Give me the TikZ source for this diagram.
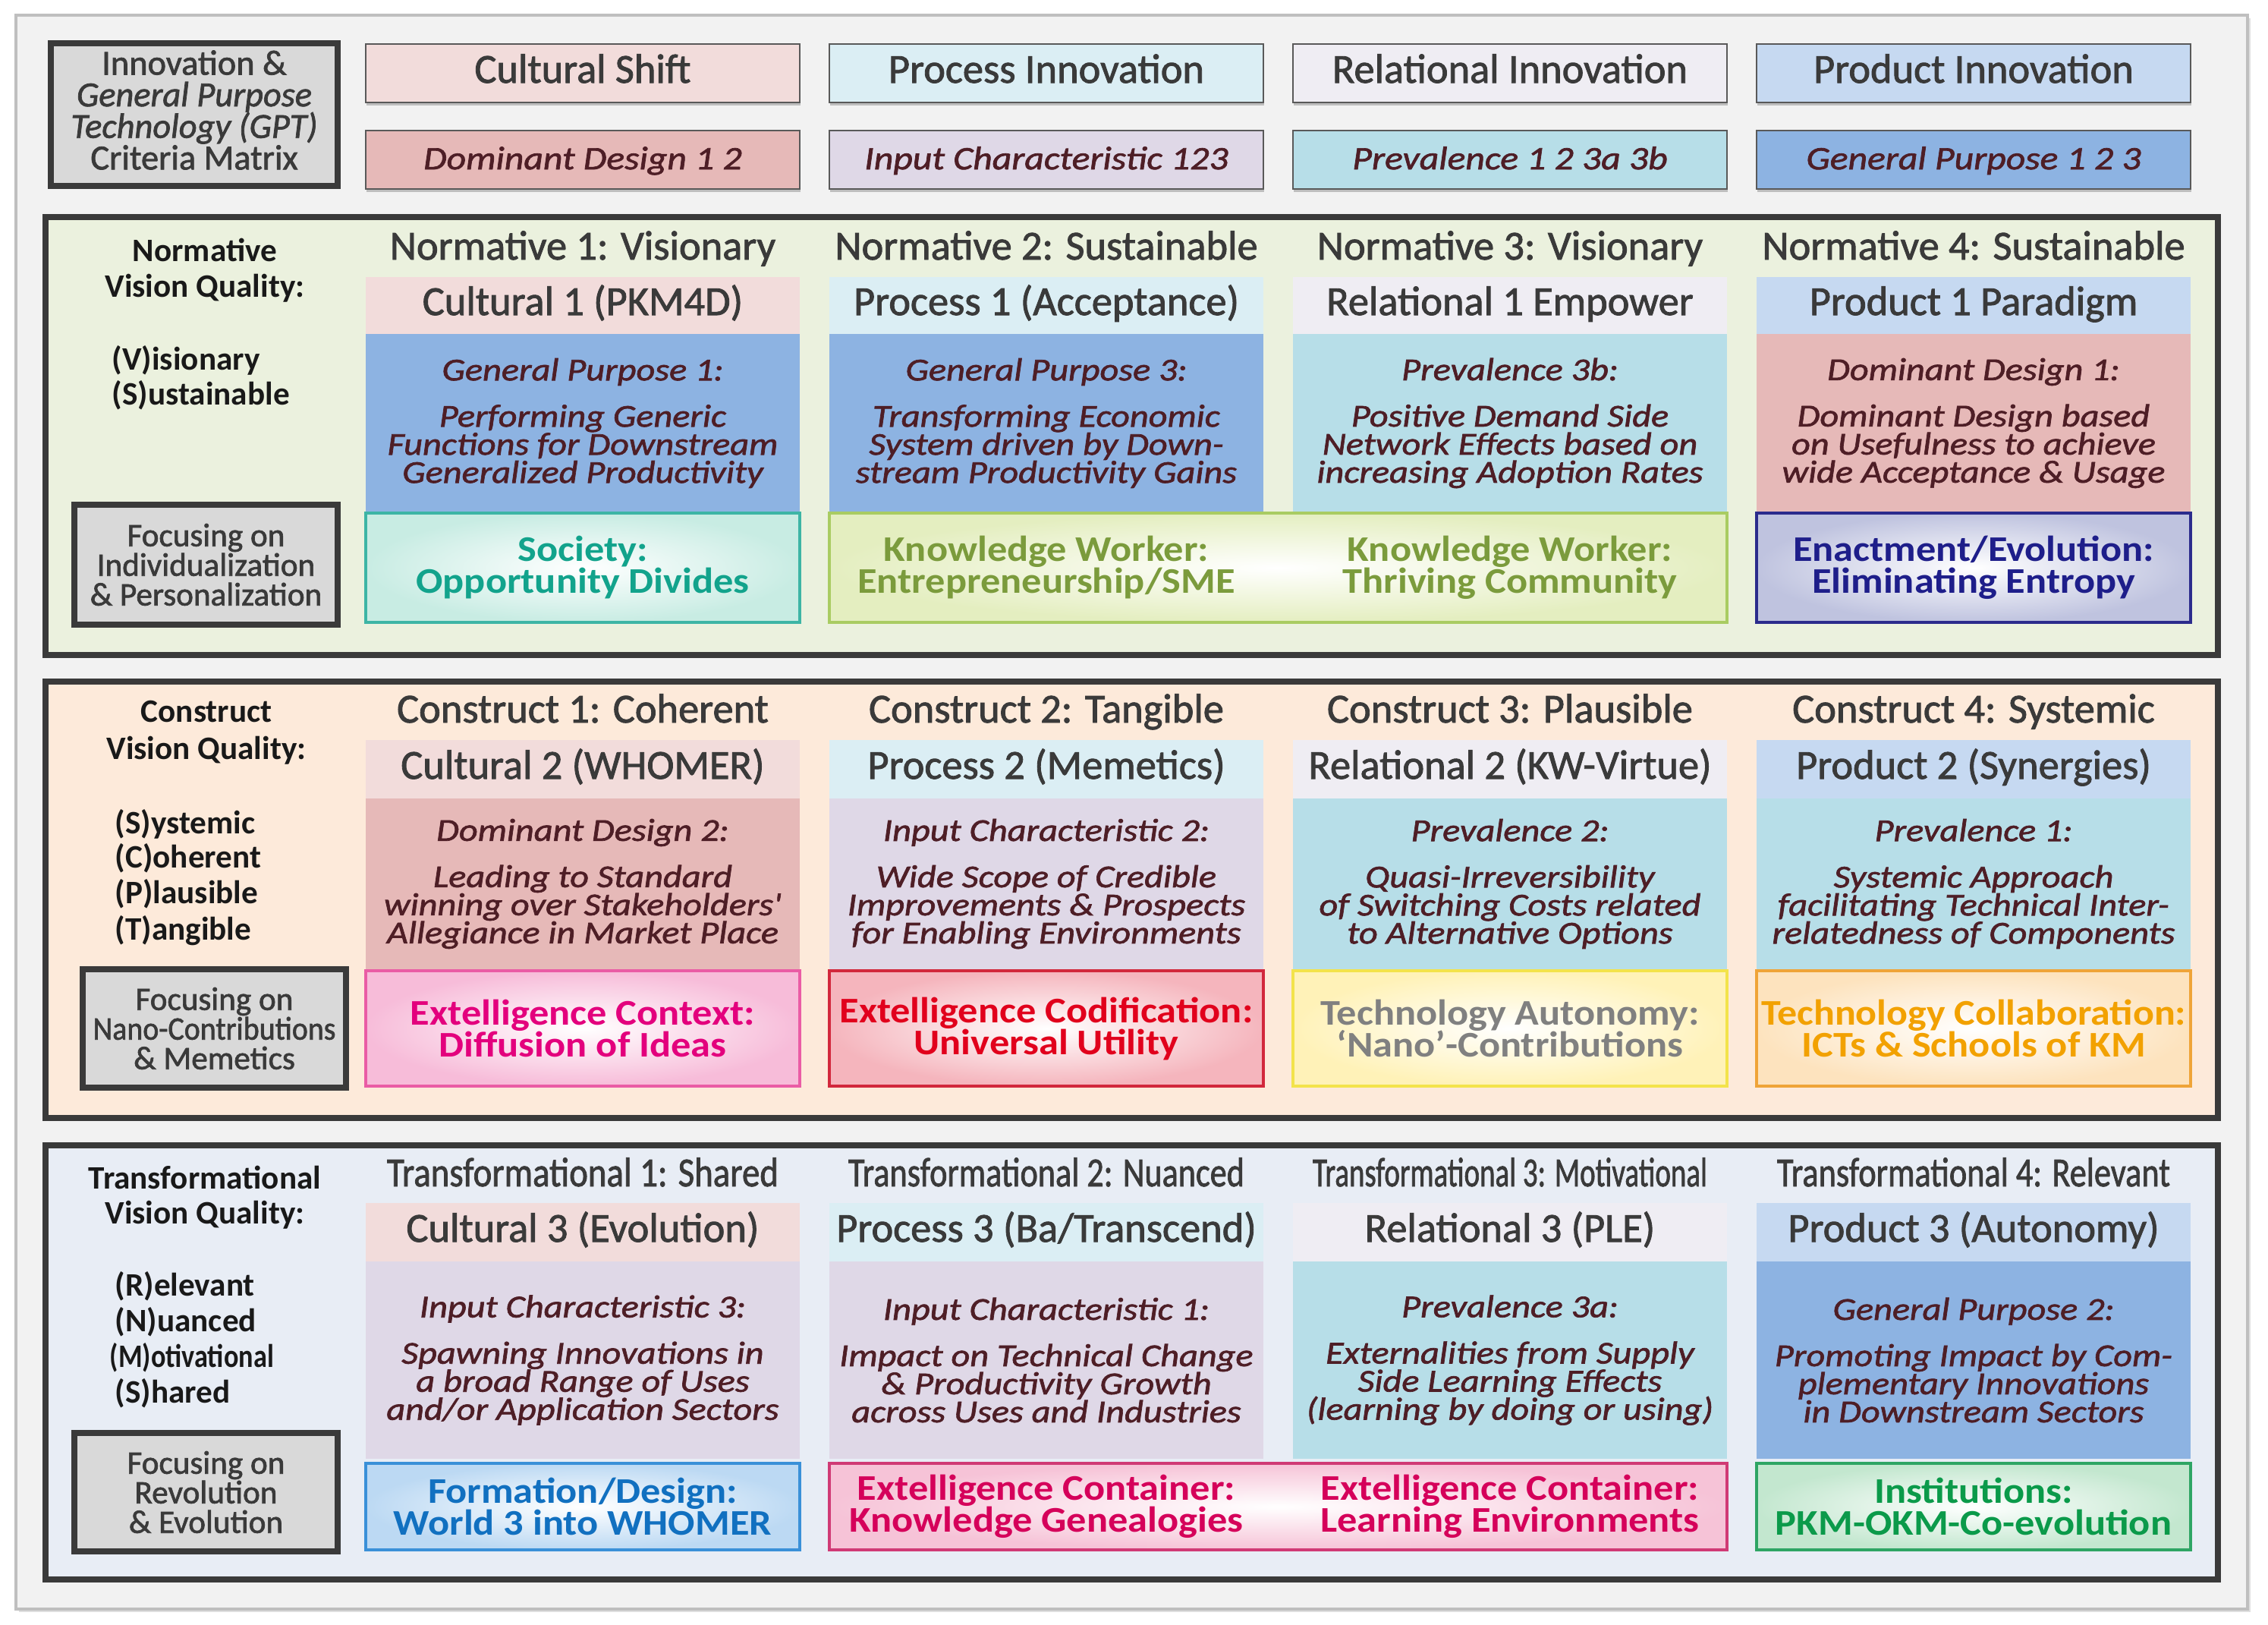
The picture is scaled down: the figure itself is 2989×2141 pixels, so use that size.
\documentclass[tikz,border=0pt]{standalone}
\usepackage{fontspec}
\usepackage{graphicx}
\setmainfont{Carlito}
\newfontfamily\hdf{Carlito}[FakeBold=1.6]
\newfontfamily\wideA{Carlito}[FakeStretch=1.15,FakeBold=1.6]
\newfontfamily\wideB{Carlito}[FakeStretch=1.1]
\usetikzlibrary{shadows}
\newcommand\tight{\lineskiplimit=-50pt\relax}
\newlength\maxw
\setlength\maxw{140pt}
\newsavebox\fitbox
\newcommand\fitl[1]{\sbox\fitbox{#1}\ifdim\wd\fitbox>\maxw\resizebox{\maxw}{\height}{#1}\else\usebox\fitbox\fi}
\newcommand\ct[4]{#1\\[6pt]\fitl{#2}\\\fitl{#3}\\\fitl{#4}}
\newcommand\cond[2]{\resizebox{#1}{\height}{#2}}
\definecolor{frameF}{HTML}{F2F2F2}
\definecolor{boxgray}{HTML}{D9D9D9}
\definecolor{darkb}{HTML}{3A3A3A}
\definecolor{cul}{HTML}{F2DCDB}
\definecolor{pro}{HTML}{DBEEF4}
\definecolor{rel}{HTML}{EFEDF3}
\definecolor{prd}{HTML}{C6D9F1}
\definecolor{dd}{HTML}{E6B9B8}
\definecolor{ic}{HTML}{DFD8E7}
\definecolor{prev}{HTML}{B7DEE8}
\definecolor{gp}{HTML}{8DB3E2}
\definecolor{bandA}{HTML}{EBF1DE}
\definecolor{bandB}{HTML}{FDEADA}
\definecolor{bandC}{HTML}{E8EDF5}
\definecolor{hdtext}{HTML}{3A3A3A}
\definecolor{ctext}{HTML}{4E1E26}
\definecolor{socT}{HTML}{12A38C}\definecolor{socB}{HTML}{3DB5A5}\definecolor{socO}{HTML}{C8ECE3}
\definecolor{kwT}{HTML}{7B9B3C}\definecolor{kwB}{HTML}{A9CC62}\definecolor{kwO}{HTML}{E4EEC0}
\definecolor{enT}{HTML}{1E1E8A}\definecolor{enB}{HTML}{2B2B8C}\definecolor{enO}{HTML}{BFC3DF}
\definecolor{ecT}{HTML}{E3007D}\definecolor{ecB}{HTML}{EA5CA5}\definecolor{ecO}{HTML}{F7BCD9}
\definecolor{edT}{HTML}{E1001C}\definecolor{edB}{HTML}{D2283C}\definecolor{edO}{HTML}{F5B5BD}
\definecolor{taT}{HTML}{808080}\definecolor{taB}{HTML}{F3E34B}\definecolor{taO}{HTML}{FFF2B8}
\definecolor{tcT}{HTML}{F2A100}\definecolor{tcB}{HTML}{EFA438}\definecolor{tcO}{HTML}{FDE3BE}
\definecolor{fdT}{HTML}{1170C0}\definecolor{fdB}{HTML}{3A90D8}\definecolor{fdO}{HTML}{BCD9F3}
\definecolor{xcT}{HTML}{D5005A}\definecolor{xcB}{HTML}{D03A75}\definecolor{xcO}{HTML}{F6C3D7}
\definecolor{inT}{HTML}{0B9A4A}\definecolor{inB}{HTML}{2EA564}\definecolor{inO}{HTML}{C3E7CF}
\begin{document}
\begin{tikzpicture}[x=0.25pt,y=-0.25pt,
  hdrbox/.style={draw=black!65, line width=0.6pt, minimum width=143pt, minimum height=19.25pt, inner sep=0pt, text height=0.72em, text depth=0.09em, drop shadow={opacity=0.45, shadow xshift=0.2pt, shadow yshift=-0.9pt}},
  hdrA/.style={hdrbox, font=\hdf\fontsize{13.6}{16}\selectfont, text=hdtext},
  hdrB/.style={hdrbox, font=\wideA\itshape\fontsize{10.8}{13}\selectfont, text=ctext},
  bandbox/.style={draw=darkb, line width=2pt, inner sep=0pt, minimum width=715.75pt},
  graybox/.style={draw=darkb, line width=2pt, fill=boxgray, inner sep=0pt, align=center, text=hdtext, minimum width=86.75pt, minimum height=39.5pt, font=\hdf\fontsize{10.8}{9.75}\selectfont\tight},
  headtxt/.style={font=\hdf\fontsize{13.6}{16}\selectfont, text=hdtext, inner sep=0pt, anchor=base},
  lbl/.style={font=\bfseries\fontsize{10.8}{13}\selectfont, text=black!90, inner sep=0pt, anchor=base},
  lst/.style={lbl, anchor=base west},
  namebox/.style={minimum width=143pt, minimum height=19.25pt, inner sep=0pt, font=\hdf\fontsize{13.6}{16}\selectfont, text=hdtext, text height=0.72em, text depth=0.09em},
  cbox/.style={minimum width=143pt, inner sep=0pt, align=center, text=ctext, font=\wideA\itshape\fontsize{10.5}{9.25}\selectfont\tight},
  btxt/.style={align=center, inner sep=0pt, font=\wideB\bfseries\fontsize{11.9}{10.5}\selectfont\tight},
  bbox/.style={btxt, minimum width=143pt, line width=0.8pt}
]
\fill[white] (0,0) rectangle (2989,2141);
\useasboundingbox (0,0) rectangle (2989,2141);
\node[draw=black!25, line width=1pt, fill=frameF, minimum width=735.25pt, minimum height=525pt, inner sep=0pt, drop shadow={opacity=0.25, shadow xshift=1pt, shadow yshift=-1pt}] (frame) at (1491.5,1070) {};
% top-left box
\node[graybox, minimum width=94.5pt, minimum height=47pt] (tl) at (256,151) {};
\node[align=center, inner sep=0pt, text=hdtext, font=\hdf\fontsize{11.6}{10.4}\selectfont\tight] (tlt) at (256,145) {Innovation \&\\\textit{General Purpose}\\\textit{Technology (GPT)}\\Criteria Matrix};
% header rows
\node[hdrA, fill=cul] (hc) at (768,96.5) {Cultural Shift};
\node[hdrA, fill=pro] (hp) at (1379,96.5) {Process Innovation};
\node[hdrA, fill=rel] (hr) at (1990,96.5) {Relational Innovation};
\node[hdrA, fill=prd] (hq) at (2601,96.5) {Product Innovation};
\node[hdrB, fill=dd] (gd) at (768,210.5) {Dominant Design 1 2};
\node[hdrB, fill=ic] (gi) at (1379,210.5) {Input Characteristic 123};
\node[hdrB, fill=prev] (gv) at (1990,210.5) {Prevalence 1 2 3a 3b};
\node[hdrB, fill=gp] (gg) at (2601,210.5) {General Purpose 1 2 3};
% bands
\node[bandbox, fill=bandA, minimum height=144.25pt] (bandN) at (1491.5,574.5) {};
\node[bandbox, fill=bandB, minimum height=143.75pt] (bandK) at (1491.5,1185.5) {};
\node[bandbox, fill=bandC, minimum height=143pt] (bandT) at (1491.5,1795) {};
% ---------- band 1
\node[lbl] (n1a) at (270,344) {Normative};
\node[lbl] (n1b) at (270,391) {Vision Quality:};
\node[lst] (n1c) at (147,487) {(V)isionary};
\node[lst] (n1d) at (147,533) {(S)ustainable};
\node[graybox] (f1) at (271.5,744) {Focusing on\\Individualization\\\& Personalization};
\node[headtxt] (t11) at (768,342) {Normative 1: Visionary};
\node[headtxt] (t12) at (1379,342) {Normative 2: Sustainable};
\node[headtxt] (t13) at (1990,342) {Normative 3: Visionary};
\node[headtxt] (t14) at (2601,342) {Normative 4: Sustainable};
\node[namebox, fill=cul, minimum height=18.75pt] (m11) at (768,402.5) {Cultural 1 (PKM4D)};
\node[namebox, fill=pro, minimum height=18.75pt] (m12) at (1379,402.5) {Process 1 (Acceptance)};
\node[namebox, fill=rel, minimum height=18.75pt] (m13) at (1990,402.5) {Relational 1 Empower};
\node[namebox, fill=prd, minimum height=18.75pt] (m14) at (2601,402.5) {Product 1 Paradigm};
\node[cbox, fill=gp, minimum height=58.75pt] (c11) at (768,557.5) {\ct{General Purpose 1:}{Performing Generic}{Functions for Downstream}{Generalized Productivity}};
\node[cbox, fill=gp, minimum height=58.75pt] (c12) at (1379,557.5) {\ct{General Purpose 3:}{Transforming Economic}{System driven by Down-}{stream Productivity Gains}};
\node[cbox, fill=prev, minimum height=58.75pt] (c13) at (1990,557.5) {\ct{Prevalence 3b:}{Positive Demand Side}{Network Effects based on}{increasing Adoption Rates}};
\node[cbox, fill=dd, minimum height=58.75pt] (c14) at (2601,557.5) {\ct{Dominant Design 1:}{Dominant Design based}{on Usefulness to achieve}{wide Acceptance \& Usage}};
\node[bbox, draw=socB, inner color=white, outer color=socO, text=socT, minimum height=36pt] (b11) at (768,748) {Society:\\Opportunity Divides};
\node[bbox, draw=kwB, inner color=white, outer color=kwO, minimum width=295.75pt, minimum height=36pt] (b12) at (1684.5,748) {};
\node[btxt, text=kwT] (b12a) at (1379,748) {Knowledge Worker:\\Entrepreneurship/SME};
\node[btxt, text=kwT] (b12b) at (1990,748) {Knowledge Worker:\\Thriving Community};
\node[bbox, draw=enB, inner color=white, outer color=enO, text=enT, minimum height=36pt] (b14) at (2601,748) {Enactment/Evolution:\\Eliminating Entropy};
% ---------- band 2
\node[lbl] (n2a) at (272,951) {Construct};
\node[lbl] (n2b) at (272,1000) {Vision Quality:};
\node[lst] (n2c) at (151,1098) {(S)ystemic};
\node[lst] (n2d) at (151,1143) {(C)oherent};
\node[lst] (n2e) at (151,1190) {(P)lausible};
\node[lst] (n2f) at (151,1238) {(T)angible};
\node[graybox, minimum height=39pt] (f2) at (282.5,1355) {Focusing on\\\cond{80pt}{Nano-Contributions}\\\& Memetics};
\node[headtxt] (t21) at (768,952) {Construct 1: Coherent};
\node[headtxt] (t22) at (1379,952) {Construct 2: Tangible};
\node[headtxt] (t23) at (1990,952) {Construct 3: Plausible};
\node[headtxt] (t24) at (2601,952) {Construct 4: Systemic};
\node[namebox, fill=cul] (m21) at (768,1013.5) {Cultural 2 (WHOMER)};
\node[namebox, fill=pro] (m22) at (1379,1013.5) {Process 2 (Memetics)};
\node[namebox, fill=rel] (m23) at (1990,1013.5) {Relational 2 (KW-Virtue)};
\node[namebox, fill=prd] (m24) at (2601,1013.5) {Product 2 (Synergies)};
\node[cbox, fill=dd, minimum height=56.25pt] (c21) at (768,1164.5) {\ct{Dominant Design 2:}{Leading to Standard}{winning over Stakeholders'}{Allegiance in Market Place}};
\node[cbox, fill=ic, minimum height=56.25pt] (c22) at (1379,1164.5) {\ct{Input Characteristic 2:}{Wide Scope of Credible}{Improvements \& Prospects}{for Enabling Environments}};
\node[cbox, fill=prev, minimum height=56.25pt] (c23) at (1990,1164.5) {\ct{Prevalence 2:}{Quasi-Irreversibility}{of Switching Costs related}{to Alternative Options}};
\node[cbox, fill=prev, minimum height=56.25pt] (c24) at (2601,1164.5) {\ct{Prevalence 1:}{Systemic Approach}{facilitating Technical Inter-}{relatedness of Components}};
\node[bbox, draw=ecB, inner color=white, outer color=ecO, text=ecT, minimum height=38pt] (b21) at (768,1355) {Extelligence Context:\\Diffusion of Ideas};
\node[bbox, draw=edB, inner color=white, outer color=edO, text=edT, minimum height=38pt] (b22) at (1379,1355) {\fitl{Extelligence Codification:}\\Universal Utility};
\node[bbox, draw=taB, inner color=white, outer color=taO, text=taT, minimum height=38pt] (b23) at (1990,1355) {Technology Autonomy:\\‘Nano’-Contributions};
\node[bbox, draw=tcB, inner color=white, outer color=tcO, text=tcT, minimum height=38pt] (b24) at (2601,1355) {\fitl{Technology Collaboration:}\\ICTs \& Schools of KM};
% ---------- band 3
\node[lbl] (n3a) at (270,1566) {Transformational};
\node[lbl] (n3b) at (270,1612) {Vision Quality:};
\node[lst] (n3c) at (151,1707) {(R)elevant};
\node[lst] (n3d) at (151,1754) {(N)uanced};
\node[lst] (n3e) at (144,1801) {\cond{54pt}{(M)otivational}};
\node[lst] (n3f) at (151,1848) {(S)hared};
\node[graybox, minimum height=39pt] (f3) at (271.5,1966) {Focusing on\\Revolution\\\& Evolution};
\node[headtxt] (t31) at (768,1563) {\cond{129pt}{Transformational 1: Shared}};
\node[headtxt] (t32) at (1379,1563) {\cond{130.5pt}{Transformational 2: Nuanced}};
\node[headtxt] (t33) at (1990,1563) {\cond{130pt}{Transformational 3: Motivational}};
\node[headtxt] (t34) at (2601,1563) {\cond{129.5pt}{Transformational 4: Relevant}};
\node[namebox, fill=cul] (m31) at (768,1623.5) {Cultural 3 (Evolution)};
\node[namebox, fill=pro] (m32) at (1379,1623.5) {Process 3 (Ba/Transcend)};
\node[namebox, fill=rel] (m33) at (1990,1623.5) {Relational 3 (PLE)};
\node[namebox, fill=prd] (m34) at (2601,1623.5) {Product 3 (Autonomy)};
\node[cbox, fill=ic, minimum height=65pt] (c31) at (768,1792) {\ct{Input Characteristic 3:}{Spawning Innovations in}{a broad Range of Uses}{and/or Application Sectors}};
\node[cbox, fill=ic, minimum height=65pt] (c32) at (1379,1792) {\ct{Input Characteristic 1:}{Impact on Technical Change}{\& Productivity Growth}{across Uses and Industries}};
\node[cbox, fill=prev, minimum height=65pt] (c33) at (1990,1792) {\ct{Prevalence 3a:}{Externalities from Supply}{Side Learning Effects}{(learning by doing or using)}};
\node[cbox, fill=gp, minimum height=65pt] (c34) at (2601,1792) {\ct{General Purpose 2:}{Promoting Impact by Com-}{plementary Innovations}{in Downstream Sectors}};
\node[bbox, draw=fdB, inner color=white, outer color=fdO, text=fdT, minimum height=28.5pt] (b31) at (768,1985) {Formation/Design:\\World 3 into WHOMER};
\node[bbox, draw=xcB, inner color=white, outer color=xcO, minimum width=295.75pt, minimum height=28.5pt] (b32) at (1684.5,1985) {};
\node[btxt, text=xcT] (b32a) at (1379,1985) {Extelligence Container:\\Knowledge Genealogies};
\node[btxt, text=xcT] (b32b) at (1990,1985) {Extelligence Container:\\Learning Environments};
\node[bbox, draw=inB, inner color=white, outer color=inO, text=inT, minimum height=28.5pt] (b34) at (2601,1985) {Institutions:\\PKM-OKM-Co-evolution};
\end{tikzpicture}
\end{document}
